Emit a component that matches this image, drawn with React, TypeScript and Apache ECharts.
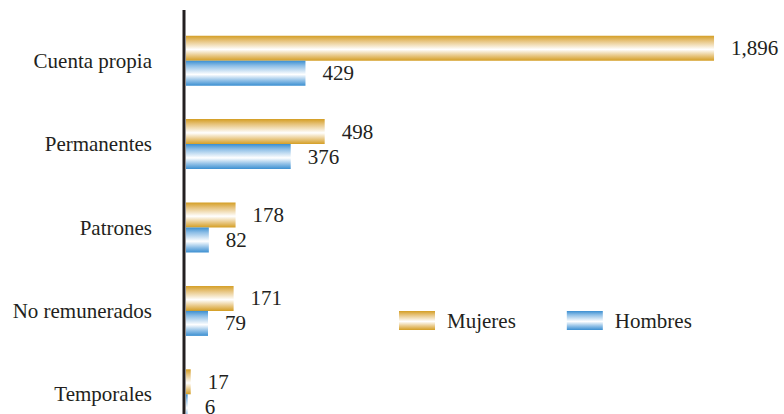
import React, { useEffect, useRef } from "react";
import * as echarts from "echarts";

const categories = ["Cuenta propia", "Permanentes", "Patrones", "No remunerados", "Temporales"];
const mujeres = [1896, 498, 178, 171, 17];
const hombres = [429, 376, 82, 79, 6];
const seriesNames = ["Mujeres", "Hombres"];

const FONT = "Liberation Serif";
const TEXT = "#231F20";
const FS = 21;

const goldGrad = {
  type: "linear",
  x: 0, y: 0, x2: 0, y2: 1,
  colorStops: [
    { offset: 0, color: "#D49E24" },
    { offset: 0.2, color: "#E6C27A" },
    { offset: 0.55, color: "#FFFFFF" },
    { offset: 0.8, color: "#E8C783" },
    { offset: 1, color: "#D49E24" },
  ],
};
const blueGrad = {
  type: "linear",
  x: 0, y: 0, x2: 0, y2: 1,
  colorStops: [
    { offset: 0, color: "#3B8FD1" },
    { offset: 0.2, color: "#8DBEE6" },
    { offset: 0.55, color: "#FFFFFF" },
    { offset: 0.8, color: "#8DBEE6" },
    { offset: 1, color: "#3B8FD1" },
  ],
};

export default function App() {
  const ref = useRef<HTMLDivElement>(null);
  useEffect(() => {
    if (!ref.current) return;
    const chart = echarts.init(ref.current, null, { renderer: "svg" });
    const label = {
      show: true,
      position: "right",
      distance: 17,
      color: TEXT,
      fontSize: FS,
      fontFamily: FONT,
      formatter: (p: any) => Number(p.value).toLocaleString("en-US"),
    };
    chart.setOption({
      animation: false,
      backgroundColor: "#FFFFFF",
      textStyle: { fontFamily: FONT },
      grid: { left: 186, right: 41, top: 19, height: 417, outerBoundsMode: "none" },
      xAxis: {
        type: "value",
        min: 0,
        max: 2000,
        show: false,
      },
      yAxis: {
        type: "category",
        inverse: true,
        data: categories,
        axisLine: { show: false },
        axisTick: { show: false },
        splitLine: { show: false },
        axisLabel: { margin: 34, fontSize: FS, color: TEXT, fontFamily: FONT },
      },
      legend: {
        data: seriesNames,
        left: 394,
        top: 305,
        itemWidth: 36,
        itemHeight: 19,
        itemGap: 51,
        icon: "rect",
        textStyle: { fontSize: FS, color: TEXT, fontFamily: FONT, padding: [0, 0, 0, 7] },
      },
      series: [
        {
          name: seriesNames[0],
          type: "bar",
          data: mujeres,
          barWidth: 25,
          barGap: "0%",
          itemStyle: { color: goldGrad },
          label,
        },
        {
          name: seriesNames[1],
          type: "bar",
          data: hombres,
          barWidth: 25,
          barGap: "0%",
          itemStyle: { color: blueGrad },
          label,
        },
      ],
      graphic: [
        {
          type: "line",
          shape: { x1: 184, y1: 10, x2: 184, y2: 414 },
          style: { stroke: TEXT, lineWidth: 3 },
          z: 100,
        },
      ],
    });
    return () => chart.dispose();
  }, []);
  return (
    <div
      ref={ref}
      style={{ position: "absolute", left: 0, top: 0, width: 784, height: 414 }}
    />
  );
}
